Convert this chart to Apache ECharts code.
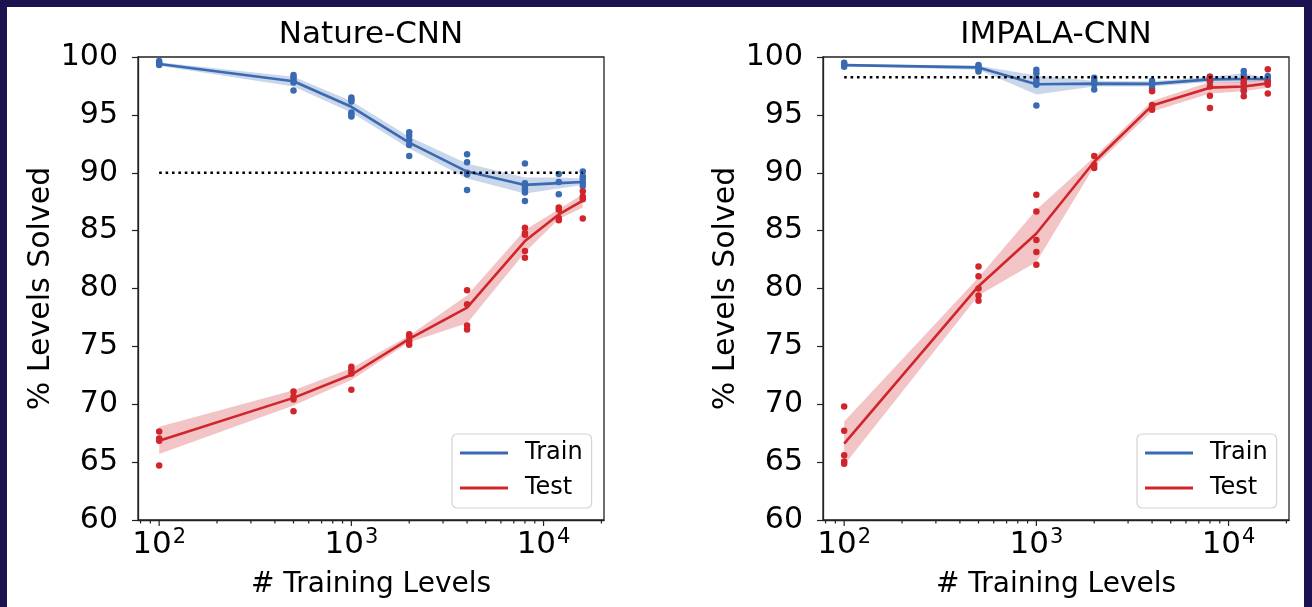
<!DOCTYPE html>
<html>
<head>
<meta charset="utf-8">
<script src="https://cdn.jsdelivr.net/npm/echarts@6/dist/echarts.min.js"></script>
<style>
  html, body { margin: 0; padding: 0; background: #1c1250; }
  #chart-container { position: absolute; left: 7px; top: 7px; width: 1297px; height: 600px; background: #fff; }
</style>
</head>
<body>
<div id="chart-container"></div>
<script>
var dom = document.getElementById("chart-container");
var myChart = echarts.init(dom, null, { renderer: "canvas", useDirtyRect: false });

const levels = [100, 500, 1000, 2000, 4000, 8000, 12000, 16000];
const xTicks = [80, 90, 100, 200, 300, 400, 500, 600, 700, 800, 900, 1000, 2000, 3000, 4000, 5000, 6000, 7000, 8000, 9000, 10000, 20000];
const titles = ["Nature-CNN", "IMPALA-CNN"];

// Nature-CNN
const natTrainMean = [99.4, 97.9, 95.7, 92.6, 90.1, 88.95, 89.1, 89.2];
const natTrainLo = [99.25, 97.45, 95.2, 92.1, 89.5, 88.2, 88.65, 88.95];
const natTrainHi = [99.55, 98.3, 96.2, 93.1, 90.8, 89.6, 89.6, 89.5];
const natTestMean = [66.85, 70.55, 72.55, 75.65, 78.35, 84.1, 86.4, 87.6];
const natTestLo = [65.7, 69.9, 72.1, 75.35, 77.0, 83.1, 86.0, 87.0];
const natTestHi = [68.05, 71.2, 73.1, 75.95, 79.4, 85.05, 86.85, 88.15];
const natTrainDots = [
  [99.65, 99.5, 99.4, 99.3],
  [98.45, 98.25, 98.0, 97.8, 97.1],
  [96.5, 96.3, 96.15, 95.2, 95.0, 94.85],
  [93.5, 93.2, 92.8, 92.4, 91.45],
  [91.6, 90.9, 90.0, 89.85, 88.5],
  [90.8, 89.1, 88.85, 88.55, 88.3, 87.55],
  [89.9, 89.2, 88.15],
  [90.1, 89.7, 89.45, 89.15, 88.85]
];
const natTestDots = [
  [67.65, 67.05, 66.85, 64.7],
  [71.1, 70.65, 70.4, 69.4],
  [73.25, 72.95, 72.65, 71.25],
  [76.05, 75.85, 75.45, 75.15],
  [79.85, 78.65, 76.8, 76.45],
  [85.25, 84.8, 84.65, 83.25, 82.65],
  [87.0, 86.8, 86.1, 85.9],
  [88.4, 87.95, 87.7, 86.05]
];
const natRef = 90;

// IMPALA-CNN
const impTrainMean = [99.3, 99.1, 97.65, 97.7, 97.68, 98.07, 98.1, 98.1];
const impTrainLo = [99.2, 98.9, 96.75, 97.45, 97.45, 97.85, 97.8, 98.0];
const impTrainHi = [99.4, 99.25, 98.4, 97.95, 97.9, 98.3, 98.6, 98.2];
const impTestMean = [66.6, 80.2, 84.75, 90.95, 95.8, 97.35, 97.45, 97.72];
const impTestLo = [64.75, 79.4, 82.3, 90.55, 95.3, 96.85, 97.05, 97.35];
const impTestHi = [68.5, 80.95, 86.8, 91.35, 96.2, 97.85, 97.85, 98.05];
const impTrainDots = [
  [99.5, 99.4, 99.3, 99.15],
  [99.3, 99.15, 98.95, 98.75],
  [98.9, 98.6, 98.1, 97.8, 97.6, 95.8],
  [98.2, 97.95, 97.65, 97.2],
  [97.95, 97.75, 97.6, 97.3],
  [98.3, 98.1, 98.0, 97.85],
  [98.8, 98.45, 98.05, 97.7, 97.05],
  [98.35, 98.2, 98.0, 97.9]
];
const impTestDots = [
  [69.8, 67.7, 65.6, 65.05, 64.85],
  [81.9, 81.05, 80.0, 79.4, 78.95],
  [88.1, 86.65, 84.2, 83.15, 82.05],
  [91.45, 90.7, 90.4],
  [97.05, 95.85, 95.7, 95.45],
  [98.3, 97.95, 97.45, 96.65, 95.6],
  [98.05, 97.75, 97.4, 97.15, 96.6],
  [98.95, 97.85, 97.6, 96.85]
];
const impRef = 98.25;

const BLUE = "#3a6ab1";
const RED = "#d0262b";
const FONT = "DejaVu Sans";

const panels = [
  { trainMean: natTrainMean, trainLo: natTrainLo, trainHi: natTrainHi, testMean: natTestMean, testLo: natTestLo, testHi: natTestHi, trainDots: natTrainDots, testDots: natTestDots, ref: natRef },
  { trainMean: impTrainMean, trainLo: impTrainLo, trainHi: impTrainHi, testMean: impTestMean, testLo: impTestLo, testHi: impTestHi, trainDots: impTrainDots, testDots: impTestDots, ref: impRef }
];
const gridLeft = [131, 816];

// shaded confidence band, one polygon through the axis scales
function band(idx, name, lo, hi, fill) {
  return {
    name: name, type: "custom", xAxisIndex: idx, yAxisIndex: idx, silent: true, z: 1,
    data: levels.map((x, i) => [x, lo[i], hi[i]]),
    renderItem: function (params, api) {
      if (params.dataIndexInside !== 0) return null;
      const n = params.dataInsideLength;
      const pts = [];
      for (let i = 0; i < n; i++) pts.push(api.coord([api.value(0, i), api.value(1, i)]));
      for (let i = n - 1; i >= 0; i--) pts.push(api.coord([api.value(0, i), api.value(2, i)]));
      return { type: "polygon", shape: { points: pts }, style: { fill: fill } };
    },
    encode: { x: 0, y: [1, 2] }
  };
}
function dots(idx, name, vals, color) {
  const data = [];
  levels.forEach((x, i) => vals[i].forEach(v => data.push([x, v])));
  return { name: name, type: "scatter", xAxisIndex: idx, yAxisIndex: idx, data: data, symbolSize: 6.5, itemStyle: { color: color, opacity: 1 }, z: 4 };
}
function meanLine(idx, name, vals, color) {
  return { name: name, type: "line", xAxisIndex: idx, yAxisIndex: idx, data: levels.map((x, i) => [x, vals[i]]), symbol: "none", lineStyle: { color: color, width: 2.6 }, itemStyle: { color: color }, z: 3 };
}
function tickSeries(idx) {
  return {
    type: "custom", xAxisIndex: idx, yAxisIndex: idx, silent: true, clip: false, z: 6,
    data: xTicks.map(v => [v, 60]),
    renderItem: function (params, api) {
      const v = api.value(0);
      const p = api.coord([v, 60]);
      const lg = Math.log10(v);
      const major = Math.abs(lg - Math.round(lg)) < 1e-9;
      return { type: "line", shape: { x1: p[0], y1: p[1], x2: p[0], y2: p[1] + (major ? 6 : 3.5) }, style: { stroke: "#222", lineWidth: 1.2 } };
    }
  };
}

const series = [];
panels.forEach((p, idx) => {
  series.push(band(idx, "train-ci" + idx, p.trainLo, p.trainHi, "rgba(58,106,177,0.27)"));
  series.push(band(idx, "test-ci" + idx, p.testLo, p.testHi, "rgba(208,38,43,0.27)"));
  series.push(meanLine(idx, "Train", p.trainMean, BLUE));
  series.push(meanLine(idx, "Test", p.testMean, RED));
  series.push(dots(idx, "train-seeds" + idx, p.trainDots, BLUE));
  series.push(dots(idx, "test-seeds" + idx, p.testDots, RED));
  series.push({
    name: "ref" + idx, type: "line", xAxisIndex: idx, yAxisIndex: idx, symbol: "none", z: 5,
    data: [[levels[0], p.ref], [levels[levels.length - 1], p.ref]],
    lineStyle: { color: "#000", width: 2.6, type: [2.6, 3.8] }
  });
  series.push(tickSeries(idx));
});

option = {
  animation: false,
  backgroundColor: "#fff",
  textStyle: { fontFamily: FONT },
  title: titles.map((t, idx) => ({
    text: t, left: gridLeft[idx] + 233, top: 12, textAlign: "center", padding: 0,
    textStyle: { fontFamily: FONT, fontSize: 31, fontWeight: "normal", color: "#000" }
  })),
  legend: [0, 1].map(idx => ({
    data: ["Train", "Test"], orient: "vertical", left: gridLeft[idx] + 314, top: 427,
    icon: "rect", itemWidth: 48, itemHeight: 3, itemGap: 11, padding: [7, 9, 8, 8],
    borderColor: "#d4d4d4", borderWidth: 1.2, borderRadius: 5, backgroundColor: "rgba(255,255,255,0.8)",
    selectedMode: false,
    textStyle: { fontFamily: FONT, fontSize: 24, color: "#000", padding: [0, 0, 0, 12] }
  })),
  grid: [0, 1].map(idx => ({
    left: gridLeft[idx], top: 50, width: 466, height: 463,
    show: true, borderColor: "#222", borderWidth: 1.3, backgroundColor: "#fff"
  })),
  xAxis: [0, 1].map(idx => ({
    type: "log", gridIndex: idx, logBase: 10, min: 77.6, max: 20630,
    name: "# Training Levels", nameLocation: "middle", nameGap: 51,
    nameTextStyle: { fontFamily: FONT, fontSize: 28, color: "#000" },
    axisLine: { show: true, lineStyle: { color: "#222", width: 1.3 } },
    axisTick: { show: false }, minorTick: { show: false },
    splitLine: { show: false }, minorSplitLine: { show: false },
    axisLabel: {
      fontFamily: FONT, fontSize: 30, color: "#000", margin: 7,
      formatter: function (v) {
        const lg = Math.log10(v);
        const r = Math.round(lg);
        return Math.abs(lg - r) < 1e-6 ? "{b|10}{s|" + r + "}" : "";
      },
      rich: {
        b: { fontFamily: FONT, fontSize: 31, color: "#000" },
        s: { fontFamily: FONT, fontSize: 21, color: "#000", padding: [0, 0, 15, 1] }
      }
    }
  })),
  yAxis: [0, 1].map(idx => ({
    type: "value", gridIndex: idx, min: 60, max: 100, interval: 5,
    name: "% Levels Solved", nameLocation: "middle", nameGap: 82,
    nameTextStyle: { fontFamily: FONT, fontSize: 30, color: "#000" },
    axisLine: { show: true, lineStyle: { color: "#222", width: 1.3 } },
    axisTick: { show: true, length: 6, lineStyle: { color: "#222", width: 1.2 } },
    splitLine: { show: false },
    axisLabel: { fontFamily: FONT, fontSize: 30, color: "#000", margin: 20 }
  })),
  series: series
};

myChart.setOption(option);
window.addEventListener("resize", myChart.resize);
</script>
</body>
</html>
